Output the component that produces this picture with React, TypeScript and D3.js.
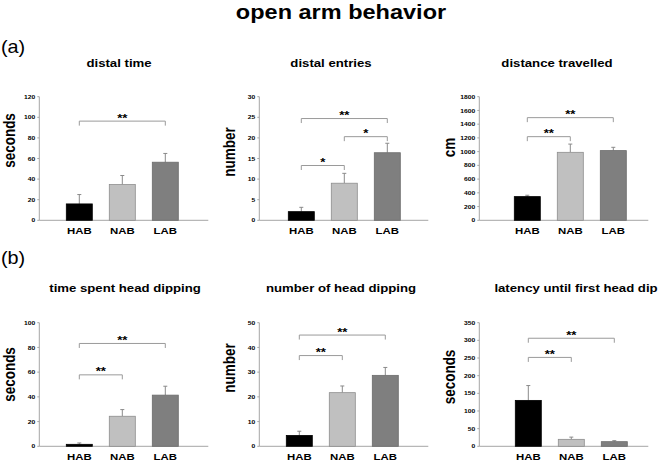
import React from "react";
import * as d3 from "d3";

const categories = ["HAB", "NAB", "LAB"];

const distalTimeMean = [15.9, 34.7, 56.4];
const distalTimeSem = [9.1, 8.8, 8.5];
const distalEntriesMean = [2.1, 9.0, 16.4];
const distalEntriesSem = [1.05, 2.4, 2.3];
const distanceMean = [345, 990, 1015];
const distanceSem = [20, 120, 48];
const headDipTimeMean = [1.6, 24.3, 41.4];
const headDipTimeSem = [1.1, 5.4, 7.2];
const headDipNumMean = [4.4, 21.7, 28.7];
const headDipNumSem = [1.7, 2.7, 3.2];
const latencyMean = [130, 19.7, 13.1];
const latencySem = [42, 6.3, 2.9];

const panelTitles = [
  "distal time",
  "distal entries",
  "distance travelled",
  "time spent head dipping",
  "number of head dipping",
  "latency until first head dip",
];
const yLabels = ["seconds", "number", "cm", "seconds", "number", "seconds"];
const yMax = [120, 30, 1800, 100, 50, 350];
const yStep = [20, 5, 200, 20, 10, 50];

// significance brackets: [from, to, height, stars]
const brackets1: [string, string, number, string][] = [["HAB", "LAB", 96.3, "**"]];
const brackets2: [string, string, number, string][] = [
  ["HAB", "LAB", 24.7, "**"],
  ["NAB", "LAB", 20.3, "*"],
  ["HAB", "NAB", 13.3, "*"],
];
const brackets3: [string, string, number, string][] = [
  ["HAB", "LAB", 1495, "**"],
  ["HAB", "NAB", 1218, "**"],
];
const brackets4: [string, string, number, string][] = [
  ["HAB", "LAB", 83.2, "**"],
  ["HAB", "NAB", 57.8, "**"],
];
const brackets5: [string, string, number, string][] = [
  ["HAB", "LAB", 45.0, "**"],
  ["HAB", "NAB", 36.7, "**"],
];
const brackets6: [string, string, number, string][] = [
  ["HAB", "LAB", 306, "**"],
  ["HAB", "NAB", 251.7, "**"],
];

const means = [distalTimeMean, distalEntriesMean, distanceMean, headDipTimeMean, headDipNumMean, latencyMean];
const sems = [distalTimeSem, distalEntriesSem, distanceSem, headDipTimeSem, headDipNumSem, latencySem];
const brackets = [brackets1, brackets2, brackets3, brackets4, brackets5, brackets6];

// layout
const W = 661;
const H = 462;
const SX = 1.2;
const FONT = "'Liberation Sans', Arial, Helvetica, sans-serif";
const rowTop = [96.7, 322.7];
const rowBottom = [220.3, 446.3];
const colAxis = [39.3, 259.3, 479.3];
const axisLen = 169;
const firstOffset = [40, 42, 48, 40, 40, 49];
const catSpan = 86;
const titleX = [119, 331, 557, 125, 341, 576];
const titleY = [66.5, 291.7];
const labelDy = [-18, -6.5, -11, -10, -16.5, -7.5];
const barW = 26;
const fills = ["#000000", "#c0c0c0", "#7f7f7f"];
const strokes = ["#000000", "#8e8e8e", "#6c6c6c"];

function Panel({ i }: { i: number }) {
  const row = Math.floor(i / 3);
  const col = i % 3;
  const ax = colAxis[col];
  const top = rowTop[row];
  const bottom = rowBottom[row];
  const y = d3.scaleLinear().domain([0, yMax[i]]).range([bottom, top]);
  const x = d3
    .scalePoint<string>()
    .domain(categories)
    .range([ax + firstOffset[i], ax + firstOffset[i] + catSpan]);
  const ticks = d3.range(0, yMax[i] + yStep[i] / 2, yStep[i]);
  const labelX = ax - 24;
  const labelY = (top + bottom) / 2 + labelDy[i];
  return (
    <g>
      <text
        transform={`translate(${titleX[i]},${titleY[row]}) scale(${SX},1)`}
        textAnchor="middle"
        fontSize={11}
        fontWeight="bold"
        fontFamily={FONT}
      >
        {panelTitles[i]}
      </text>
      <text
        transform={`translate(${labelX},${labelY}) scale(${SX},1) rotate(-90)`}
        textAnchor="middle"
        fontSize={13.5}
        fontWeight="bold"
        fontFamily={FONT}
      >
        {yLabels[i]}
      </text>
      {/* axes */}
      <line x1={ax} x2={ax} y1={top} y2={bottom} stroke="#a6a6a6" strokeWidth={1} />
      <line x1={ax} x2={ax + axisLen} y1={bottom} y2={bottom} stroke="#a6a6a6" strokeWidth={1} />
      {ticks.map((t) => (
        <g key={t}>
          <line x1={ax - 2} x2={ax} y1={y(t)} y2={y(t)} stroke="#a6a6a6" strokeWidth={1} />
          <text
            transform={`translate(${ax - 4},${y(t) + 2.1}) scale(1.12,1)`}
            textAnchor="end"
            fontSize={6}
            fontWeight="bold"
            fontFamily={FONT}
          >
            {t}
          </text>
        </g>
      ))}
      {/* bars */}
      {categories.map((c, k) => {
        const cx = x(c)!;
        const m = means[i][k];
        const e = m + sems[i][k];
        return (
          <g key={c}>
            <line x1={cx} x2={cx} y1={y(m)} y2={y(e)} stroke="#8a8a8a" strokeWidth={1} />
            <line x1={cx - 2} x2={cx + 2} y1={y(e)} y2={y(e)} stroke="#8a8a8a" strokeWidth={1} />
            <rect
              x={cx - barW / 2}
              y={y(m)}
              width={barW}
              height={bottom - y(m)}
              fill={fills[k]}
              stroke={strokes[k]}
              strokeWidth={0.8}
            />
            <text
              transform={`translate(${cx},${bottom + 13.7}) scale(${SX},1)`}
              textAnchor="middle"
              fontSize={9.5}
              fontWeight="bold"
              fontFamily={FONT}
            >
              {c}
            </text>
          </g>
        );
      })}
      {/* significance brackets */}
      {brackets[i].map(([a, b, h, s], k) => {
        const x1 = x(a)!;
        const x2 = x(b)!;
        const by = y(h);
        return (
          <g key={k}>
            <path
              d={`M${x1},${by + 4.5}V${by}H${x2}V${by + 4.5}`}
              fill="none"
              stroke="#9a9a9a"
              strokeWidth={1}
            />
            <text
              transform={`translate(${(x1 + x2) / 2},${by + 0.5}) scale(${SX},1)`}
              textAnchor="middle"
              fontSize={11}
              fontWeight="bold"
              fontFamily={FONT}
            >
              {s}
            </text>
          </g>
        );
      })}
    </g>
  );
}

export default function App() {
  return (
    <svg
      width={W}
      height={H}
      style={{ position: "absolute", left: 0, top: 0, background: "#fff" }}
    >
      <rect width={W} height={H} fill="#fff" />
      <text
        transform={`translate(341,18.5) scale(1.12,1)`}
        textAnchor="middle"
        fontSize={21}
        fontWeight="bold"
        fontFamily={FONT}
      >
        open arm behavior
      </text>
      <text transform={`translate(1,53) scale(1.1,1)`} fontSize={18} fontFamily={FONT}>
        (a)
      </text>
      <text transform={`translate(1,264) scale(1.1,1)`} fontSize={18} fontFamily={FONT}>
        (b)
      </text>
      {d3.range(6).map((i) => (
        <Panel key={i} i={i} />
      ))}
    </svg>
  );
}
